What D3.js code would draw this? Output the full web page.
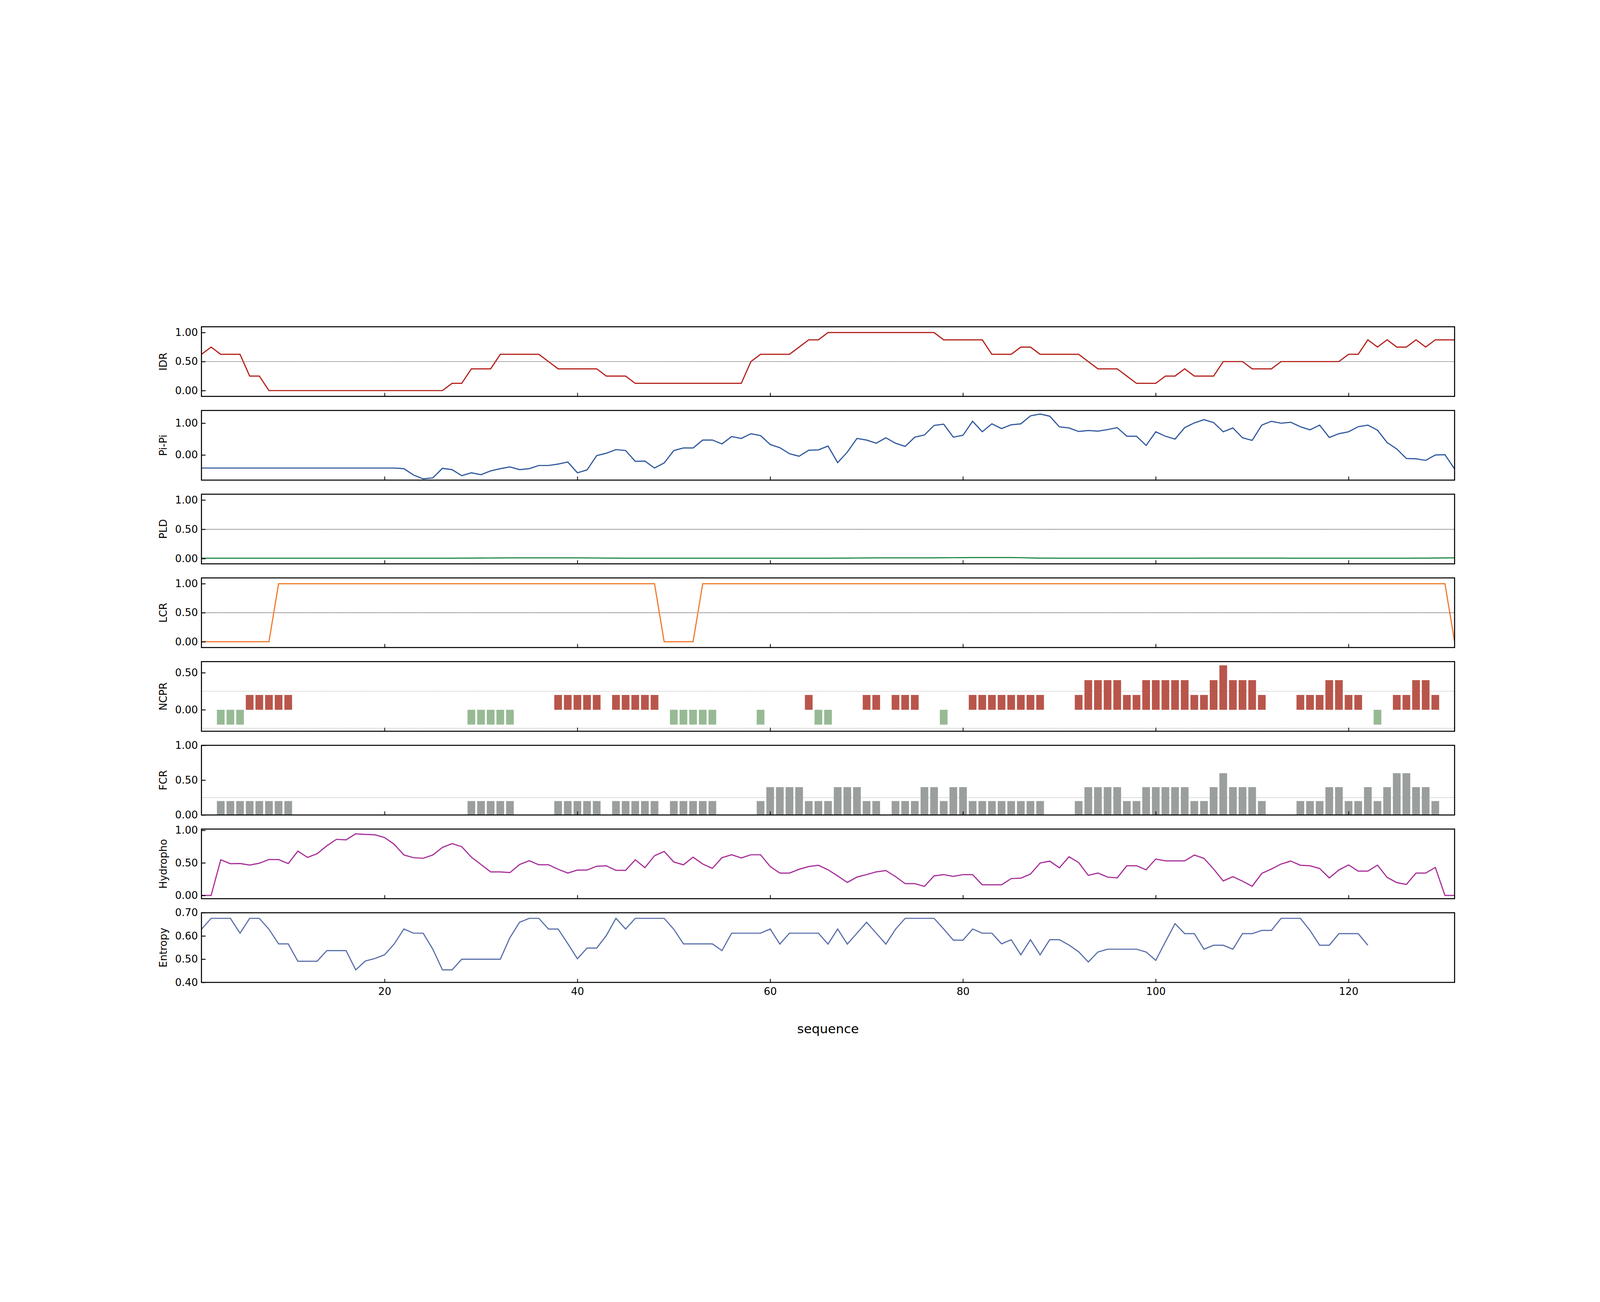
<!DOCTYPE html>
<html><head><meta charset="utf-8">
<script src="https://cdn.jsdelivr.net/npm/d3@7"></script>
<style>html,body{margin:0;padding:0;background:#fff;overflow:hidden}svg{display:block;width:100vw;height:100vh}</style>
</head><body>
<svg id="c" viewBox="0 0 6250 3333" preserveAspectRatio="xMidYMid meet"></svg>
<script>
const IDR = [0.625,0.75,0.625,0.625,0.625,0.25,0.25,0,0,0, 0,0,0,0,0,0,0,0,0,0, 0,0,0,0,0,0,0.125,0.125,0.375,0.375,
 0.375,0.625,0.625,0.625,0.625,0.625,0.5,0.375,0.375,0.375, 0.375,0.375,0.25,0.25,0.25,0.125,0.125,0.125,0.125,0.125,
 0.125,0.125,0.125,0.125,0.125,0.125,0.125,0.5,0.625,0.625, 0.625,0.625,0.75,0.875,0.875,1,1,1,1,1,
 1,1,1,1,1,1,1,0.875,0.875,0.875, 0.875,0.875,0.625,0.625,0.625,0.75,0.75,0.625,0.625,0.625,
 0.625,0.625,0.5,0.375,0.375,0.375,0.25,0.125,0.125,0.125, 0.25,0.25,0.375,0.25,0.25,0.25,0.5,0.5,0.5,0.375,
 0.375,0.375,0.5,0.5,0.5,0.5,0.5,0.5,0.5,0.625, 0.625,0.875,0.75,0.875,0.75,0.75,0.875,0.75,0.875,0.875, 0.875];
const PIPI = [-0.41,-0.41,-0.41,-0.41,-0.41,-0.41,-0.41,-0.41,-0.41,-0.41, -0.41,-0.41,-0.41,-0.41,-0.41,-0.41,-0.41,-0.41,-0.41,-0.41,
 -0.41,-0.43,-0.63,-0.75,-0.72,-0.42,-0.46,-0.65,-0.56,-0.62, -0.50,-0.43,-0.375,-0.46,-0.43,-0.33,-0.33,-0.285,-0.22,-0.56,
 -0.47,-0.02,0.055,0.17,0.14,-0.20,-0.19,-0.41,-0.25,0.14, 0.22,0.22,0.47,0.47,0.35,0.58,0.52,0.67,0.61,0.33,
 0.23,0.04,-0.04,0.15,0.16,0.28,-0.24,0.09,0.52,0.47, 0.37,0.54,0.37,0.27,0.56,0.63,0.93,0.97,0.56,0.62,
 1.06,0.73,0.98,0.83,0.95,0.98,1.23,1.29,1.22,0.885, 0.85,0.74,0.77,0.75,0.80,0.86,0.59,0.59,0.30,0.73,
 0.59,0.50,0.86,1.01,1.11,1.02,0.73,0.85,0.54,0.46, 0.94,1.06,1.00,1.03,0.89,0.79,0.94,0.55,0.67,0.73,
 0.89,0.94,0.78,0.39,0.19,-0.11,-0.12,-0.17,0.0,0.01, -0.44];
const PLD = [0.006,0.006,0.006,0.006,0.006,0.006,0.006,0.006,0.006,0.006, 0.006,0.006,0.006,0.006,0.006,0.006,0.006,0.006,0.006,0.006,
 0.006,0.006,0.006,0.006,0.006,0.006,0.006,0.007,0.008,0.009, 0.010,0.011,0.012,0.012,0.012,0.012,0.012,0.012,0.012,0.012,
 0.011,0.010,0.008,0.007,0.006,0.006,0.006,0.006,0.006,0.006, 0.006,0.006,0.006,0.006,0.006,0.006,0.006,0.006,0.006,0.006,
 0.006,0.006,0.006,0.006,0.006,0.006,0.007,0.008,0.010,0.011, 0.012,0.013,0.013,0.013,0.013,0.013,0.013,0.014,0.015,0.016,
 0.017,0.017,0.018,0.018,0.017,0.015,0.011,0.008,0.007,0.006, 0.006,0.006,0.006,0.006,0.006,0.006,0.006,0.006,0.006,0.006,
 0.006,0.006,0.006,0.006,0.007,0.007,0.008,0.008,0.008,0.008, 0.008,0.007,0.007,0.006,0.006,0.006,0.006,0.006,0.006,0.006,
 0.006,0.006,0.006,0.006,0.006,0.006,0.007,0.008,0.009,0.011, 0.012];
const LCR = [0,0,0,0,0,0,0,0,1,1, 1,1,1,1,1,1,1,1,1,1, 1,1,1,1,1,1,1,1,1,1,
 1,1,1,1,1,1,1,1,1,1, 1,1,1,1,1,1,1,1,0,0, 0,0,1,1,1,1,1,1,1,1,
 1,1,1,1,1,1,1,1,1,1, 1,1,1,1,1,1,1,1,1,1, 1,1,1,1,1,1,1,1,1,1,
 1,1,1,1,1,1,1,1,1,1, 1,1,1,1,1,1,1,1,1,1, 1,1,1,1,1,1,1,1,1,1,
 1,1,1,1,1,1,1,1,1,1, 0];
const NCPR = [0,0,-0.2,-0.2,-0.2,0.2,0.2,0.2,0.2,0.2, 0,0,0,0,0,0,0,0,0,0, 0,0,0,0,0,0,0,0,-0.2,-0.2,
 -0.2,-0.2,-0.2,0,0,0,0,0.2,0.2,0.2, 0.2,0.2,0,0.2,0.2,0.2,0.2,0.2,0,-0.2, -0.2,-0.2,-0.2,-0.2,0,0,0,0,-0.2,0,
 0,0,0,0.2,-0.2,-0.2,0,0,0,0.2, 0.2,0,0.2,0.2,0.2,0,0,-0.2,0,0, 0.2,0.2,0.2,0.2,0.2,0.2,0.2,0.2,0,0,
 0,0.2,0.4,0.4,0.4,0.4,0.2,0.2,0.4,0.4, 0.4,0.4,0.4,0.2,0.2,0.4,0.6,0.4,0.4,0.4, 0.2,0,0,0,0.2,0.2,0.2,0.4,0.4,0.2,
 0.2,0,-0.2,0,0.2,0.2,0.4,0.4,0.2,0, 0];
const FCR = [0,0,0.2,0.2,0.2,0.2,0.2,0.2,0.2,0.2, 0,0,0,0,0,0,0,0,0,0, 0,0,0,0,0,0,0,0,0.2,0.2,
 0.2,0.2,0.2,0,0,0,0,0.2,0.2,0.2, 0.2,0.2,0,0.2,0.2,0.2,0.2,0.2,0,0.2, 0.2,0.2,0.2,0.2,0,0,0,0,0.2,0.4,
 0.4,0.4,0.4,0.2,0.2,0.2,0.4,0.4,0.4,0.2, 0.2,0,0.2,0.2,0.2,0.4,0.4,0.2,0.4,0.4, 0.2,0.2,0.2,0.2,0.2,0.2,0.2,0.2,0,0,
 0,0.2,0.4,0.4,0.4,0.4,0.2,0.2,0.4,0.4, 0.4,0.4,0.4,0.2,0.2,0.4,0.6,0.4,0.4,0.4, 0.2,0,0,0,0.2,0.2,0.2,0.4,0.4,0.2,
 0.2,0.4,0.2,0.4,0.6,0.6,0.4,0.4,0.2,0, 0];
const HYDRO = [0,0,0.548,0.488,0.49,0.467,0.495,0.553,0.551,0.49, 0.681,0.584,0.641,0.762,0.862,0.854,0.947,0.938,0.932,0.889,
 0.785,0.622,0.58,0.571,0.622,0.738,0.796,0.749,0.588,0.475, 0.362,0.362,0.351,0.475,0.533,0.471,0.471,0.402,0.344,0.39,
 0.39,0.449,0.455,0.385,0.385,0.548,0.426,0.61,0.676,0.514, 0.471,0.588,0.483,0.416,0.58,0.625,0.576,0.625,0.625,0.444,
 0.344,0.344,0.402,0.444,0.463,0.395,0.30,0.20,0.282,0.32, 0.362,0.382,0.29,0.181,0.181,0.139,0.30,0.32,0.293,0.32,
 0.32,0.163,0.163,0.163,0.259,0.266,0.328,0.498,0.527,0.425, 0.594,0.505,0.308,0.344,0.281,0.27,0.456,0.456,0.394,0.559,
 0.531,0.531,0.531,0.62,0.57,0.406,0.223,0.289,0.219,0.141, 0.339,0.406,0.483,0.528,0.464,0.456,0.414,0.269,0.391,0.469,
 0.373,0.373,0.466,0.277,0.198,0.169,0.344,0.344,0.43,0, 0];
const ENTROPY = [0.629,0.676,0.676,0.676,0.612,0.676,0.676,0.629,0.566,0.566, 0.491,0.491,0.491,0.537,0.537,0.537,0.454,0.492,0.503,0.519,
 0.566,0.63,0.612,0.612,0.543,0.454,0.454,0.50,0.50,0.50, 0.50,0.50,0.593,0.659,0.676,0.676,0.63,0.63,0.567,0.502,
 0.548,0.548,0.602,0.676,0.63,0.676,0.676,0.676,0.676,0.629, 0.566,0.566,0.566,0.566,0.537,0.612,0.612,0.612,0.612,0.63,
 0.565,0.612,0.612,0.612,0.612,0.565,0.63,0.565,0.612,0.659, 0.612,0.565,0.629,0.676,0.676,0.676,0.676,0.63,0.582,0.582,
 0.63,0.612,0.612,0.566,0.584,0.519,0.584,0.519,0.584,0.584, 0.561,0.532,0.488,0.531,0.543,0.543,0.543,0.543,0.531,0.495,
 0.575,0.653,0.61,0.61,0.543,0.56,0.56,0.543,0.61,0.61, 0.624,0.624,0.676,0.676,0.676,0.624,0.56,0.56,0.61,0.61,
 0.61,0.56];
const X_TICKS = [20,40,60,80,100,120];

const panels = [
  {name:"IDR", data:IDR, type:"line", color:"#b2201a", dom:[-0.1,1.1], ticks:[0,0.5,1], ref:[0.5], refc:"#000"},
  {name:"Pi-Pi", data:PIPI, type:"line", color:"#30589c", dom:[-0.79,1.40], ticks:[0,1], ref:[], refc:"#000"},
  {name:"PLD", data:PLD, type:"line", color:"#1f8a44", dom:[-0.09,1.1], ticks:[0,0.5,1], ref:[0.5], refc:"#000"},
  {name:"LCR", data:LCR, type:"line", color:"#f0782a", dom:[-0.1,1.1], ticks:[0,0.5,1], ref:[0.5], refc:"#000"},
  {name:"NCPR", data:NCPR, type:"ncpr", dom:[-0.29,0.65], ticks:[0,0.5], ref:[0.25,-0.25], refc:"#aaa"},
  {name:"FCR", data:FCR, type:"bar", color:"#9a9f9d", dom:[0,1.0], ticks:[0,0.5,1], ref:[0.25], refc:"#aaa"},
  {name:"Hydropho", data:HYDRO, type:"line", color:"#a62e98", dom:[-0.05,1.02], ticks:[0,0.5,1], ref:[], refc:"#000"},
  {name:"Entropy", data:ENTROPY, type:"line", color:"#5b70aa", dom:[0.4,0.7], ticks:[0.4,0.5,0.6,0.7], ref:[], refc:"#000"}
];

const svg = d3.select("#c");
const L = 787, R = 5682, top0 = 400, H = 272, step = 327;
const x = d3.scaleLinear().domain([1,131]).range([L,R]);
const font = "DejaVu Sans";

panels.forEach((p,k)=>{
  const t = top0 + k*step, b = t + H;
  const y = d3.scaleLinear().domain(p.dom).range([b,t]);
  const g = svg.append("g");
  const clipId = "clip"+k;
  g.append("clipPath").attr("id",clipId).append("rect").attr("x",L).attr("y",t).attr("width",R-L).attr("height",H);
  const pg = g.append("g").attr("clip-path",`url(#${clipId})`);
  p.ref.forEach(v=>{
    pg.append("line").attr("x1",L).attr("x2",R).attr("y1",y(v)).attr("y2",y(v))
      .attr("stroke",p.refc).attr("stroke-width",p.refc==="#000"?2:2.5).attr("stroke-dasharray","3,3");
  });
  const bw = (x(2)-x(1))*0.8;
  if(p.type==="line"){
    pg.append("path").datum(p.data)
      .attr("d", d3.line().x((d,i)=>x(i+1)).y(d=>y(d)))
      .attr("fill","none").attr("stroke",p.color).attr("stroke-width",4.5).attr("stroke-linejoin","miter");
  } else {
    pg.selectAll("rect.b").data(p.data.map((v,i)=>({v,i:i+1})).filter(d=>d.v!==0)).join("rect")
      .attr("x",d=>x(d.i)-bw/2).attr("width",bw)
      .attr("y",d=>y(Math.max(0,d.v))).attr("height",d=>Math.abs(y(d.v)-y(0)))
      .attr("fill",d=>p.type==="ncpr" ? (d.v>0?"#b9564b":"#97ba95") : p.color);
  }
  const ya = g.append("g").attr("transform",`translate(${L},0)`)
    .call(d3.axisRight(y).tickValues(p.ticks).tickSize(16).tickFormat(d3.format(".2f")));
  ya.select(".domain").remove();
  ya.selectAll("line").attr("stroke","#000").attr("stroke-width",3.5);
  ya.selectAll("text").attr("x",-14).attr("text-anchor","end").attr("font-family",font).attr("font-size",40).attr("fill","#000");
  const xa = g.append("g").attr("transform",`translate(0,${b})`)
    .call(d3.axisTop(x).tickValues(X_TICKS).tickSize(14).tickFormat(""));
  xa.select(".domain").remove();
  xa.selectAll("line").attr("stroke","#000").attr("stroke-width",3);
  if(k===panels.length-1){
    const xb = g.append("g").attr("transform",`translate(0,${b})`)
      .call(d3.axisBottom(x).tickValues(X_TICKS).tickSize(0).tickPadding(20).tickFormat(d3.format("d")));
    xb.select(".domain").remove();
    xb.selectAll("text").attr("font-family",font).attr("font-size",40).attr("fill","#000");
  }
  g.append("rect").attr("x",L).attr("y",t).attr("width",R-L).attr("height",H)
    .attr("fill","none").attr("stroke","#000").attr("stroke-width",4);
  g.append("text").attr("transform",`translate(${L-135},${(t+b)/2}) rotate(-90)`)
    .attr("text-anchor","middle").attr("font-family",font).attr("font-size",40).text(p.name);
});
svg.append("text").attr("x",(L+R)/2).attr("y",3160).attr("text-anchor","middle")
  .attr("font-family",font).attr("font-size",50).text("sequence");
</script>
</body></html>
